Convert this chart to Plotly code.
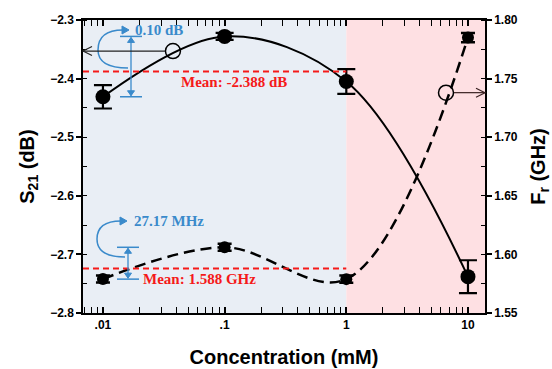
import numpy as np
import plotly.graph_objects as go

# Measured data
conc = [0.01, 0.1, 1, 10]                      # mM
s21 = [-2.431, -2.328, -2.405, -2.738]          # dB
s21_err = [0.020, 0.006, 0.021, 0.028]
fr = [1.57903, 1.60607, 1.5789, 1.785]          # GHz
fr_err = [0.003, 0.003, 0.003, 0.004]

# Points marking which curve belongs to which axis
s21_pointer = [0.0376, -2.353]
fr_pointer = [6.6, 1.738]

x_ticks = [0.01, 0.1, 1, 10]
x_ticktext = [".01", ".1", "1", "10"]

s21_mean = float(np.mean(s21[:3]))
fr_mean = float(np.mean(fr[:3]))

W, H = 552, 369
L, R, T, B = 83, 67, 20, 56
PW, PH = W - L - R, H - T - B
x_range = [-2.164, 1.14]
y_range = [-2.8, -2.3]
y2_range = [1.55, 1.80]

BLUE = "#3A8ACB"
RED = "#F51A1A"
serif = "Liberation Serif"
sans = "Liberation Sans"


# Coordinate helpers (paper units)
def xp(v):
    return (np.log10(v) - x_range[0]) / (x_range[1] - x_range[0])


def yp(v, rng):
    return (v - rng[0]) / (rng[1] - rng[0])


def pix(px, py):
    return (px - L) / PW, (H - B - py) / PH


fig = go.Figure()

# S21 trace (solid, left axis)
fig.add_trace(go.Scatter(
    x=conc, y=s21, mode="lines+markers",
    line=dict(color="black", width=2, shape="spline", smoothing=1.0),
    marker=dict(color="black", size=15),
    error_y=dict(type="data", array=s21_err, color="black", thickness=2.2, width=9),
    yaxis="y", showlegend=False,
))
# Resonance frequency trace (dashed, right axis)
fig.add_trace(go.Scatter(
    x=conc, y=fr, mode="lines+markers",
    line=dict(color="black", width=2.5, dash="11px,6px", shape="spline", smoothing=1.0),
    marker=dict(color="black", size=12),
    error_y=dict(type="data", array=fr_err, color="black", thickness=2.5, width=7),
    yaxis="y2", showlegend=False,
))
# Open circles on each curve
for pt, ax in [(s21_pointer, "y"), (fr_pointer, "y2")]:
    fig.add_trace(go.Scatter(
        x=[pt[0]], y=[pt[1]], mode="markers",
        marker=dict(symbol="circle", size=15, color="rgba(0,0,0,0)", line=dict(color="black", width=1.5)),
        yaxis=ax, showlegend=False,
    ))

shapes = []
x_one = xp(1)
# Shaded concentration regions
shapes.append(dict(type="rect", xref="paper", yref="paper", x0=0, x1=x_one, y0=0, y1=1,
                   fillcolor="#E9EEF5", line=dict(width=0), layer="below"))
shapes.append(dict(type="rect", xref="paper", yref="paper", x0=x_one, x1=1, y0=0, y1=1,
                   fillcolor="#FEE0E3", line=dict(width=0), layer="below"))
# Mean lines
for m, rng in [(s21_mean, y_range), (fr_mean, y2_range)]:
    shapes.append(dict(type="line", xref="paper", yref="paper", x0=0, x1=x_one,
                       y0=yp(m, rng), y1=yp(m, rng),
                       line=dict(color=RED, width=2, dash="6px,4px")))


def seg(x0, y0, x1, y1, color, width):
    shapes.append(dict(type="line", xref="paper", yref="paper", x0=x0, y0=y0, x1=x1, y1=y1,
                       line=dict(color=color, width=width)))


def tri(x, y, direction, color, size=5, half=3.5):
    # filled triangular arrowhead, tip at (x, y) in paper units; sizes in pixels
    dx, dy = size / PW, size / PH
    hx, hy = half / PW, half / PH
    if direction == "right":
        pts = [(x, y), (x - dx, y + hy), (x - dx, y - hy)]
    elif direction == "up":
        pts = [(x, y), (x - hx, y - dy), (x + hx, y - dy)]
    else:
        pts = [(x, y), (x - hx, y + dy), (x + hx, y + dy)]
    path = "M " + " L ".join(f"{a},{b}" for a, b in pts) + " Z"
    shapes.append(dict(type="path", xref="paper", yref="paper", path=path,
                       fillcolor=color, line=dict(color=color, width=1)))


def chevron(x, y, direction, color, size=9, half=4.5):
    # open arrowhead, tip at (x, y)
    s = 1 if direction == "right" else -1
    dx, hy = size / PW, half / PH
    path = f"M {x - s * dx},{y + hy} L {x},{y} L {x - s * dx},{y - hy}"
    shapes.append(dict(type="path", xref="paper", yref="paper", path=path,
                       line=dict(color=color, width=1.2)))


# Range brackets with double-headed arrows
def bracket(lo, hi, rng, xa, xm, xb):
    for v in (lo, hi):
        seg(pix(xa, 0)[0], yp(v, rng), pix(xb, 0)[0], yp(v, rng), BLUE, 1.5)
    x = pix(xm, 0)[0]
    y_lo, y_hi = yp(lo, rng) + 1 / PH, yp(hi, rng) - 1 / PH
    seg(x, y_lo, x, y_hi, BLUE, 1.3)
    tri(x, y_hi, "up", BLUE)
    tri(x, y_lo, "down", BLUE)


bracket(min(s21[:3]), max(s21[:3]), y_range, 120, 131, 142)
bracket(min(fr[:3]), max(fr[:3]), y2_range, 117, 128, 139)


# Curved arrows
def curve(pts):
    p = [pix(*q) for q in pts]
    path = (f"M {p[0][0]},{p[0][1]} Q {p[1][0]},{p[1][1]} {p[2][0]},{p[2][1]} "
            f"Q {p[3][0]},{p[3][1]} {p[4][0]},{p[4][1]}")
    shapes.append(dict(type="path", xref="paper", yref="paper", path=path,
                       line=dict(color=BLUE, width=1.5)))
    tip = pix(pts[4][0] + 6, pts[4][1])
    tri(tip[0], tip[1], "right", BLUE, size=7, half=4)


curve([(128, 68), (98, 68), (98, 50), (98, 30), (123, 30)])
curve([(125, 257), (97, 257), (97, 239), (97, 221), (121, 221)])

# Axis pointers from the open circles to their axes
r_circ = 8 / PW
y_s = yp(s21_pointer[1], y_range)
seg(0, y_s, xp(s21_pointer[0]) - r_circ, y_s, "#222222", 1.2)
chevron(0, y_s, "left", "#222222")
y_f = yp(fr_pointer[1], y2_range)
seg(xp(fr_pointer[0]) + r_circ, y_f, 1, y_f, "#3a2222", 1.2)
chevron(1, y_f, "right", "#3a2222")

annotations = []
# Text labels
for (px_, py_, anchor, text, color) in [
    (133, 30, "left", "0.10 dB", BLUE),
    (132, 221, "left", "27.17 MHz", BLUE),
    (234, 82, "center", f"Mean: {s21_mean:.3f} dB", RED),
    (199, 279, "center", f"Mean: {fr_mean:.3f} GHz", RED),
]:
    ax_, ay_ = pix(px_, py_)
    annotations.append(dict(xref="paper", yref="paper", x=ax_, y=ay_, xanchor=anchor, yanchor="middle",
                            text=text, showarrow=False,
                            font=dict(family=serif, size=15, color=color, weight="bold")))

tickfont = dict(family=sans, size=12, color="black", weight="bold")
titlefont = dict(family=sans, size=20, color="black", weight="bold")

fig.update_layout(
    width=W, height=H,
    margin=dict(l=L, r=R, t=T, b=B, autoexpand=False),
    paper_bgcolor="white", plot_bgcolor="white",
    shapes=shapes, annotations=annotations,
    xaxis=dict(
        type="log", range=x_range, tickvals=x_ticks, ticktext=x_ticktext,
        ticks="inside", ticklen=6, tickwidth=1.5, tickcolor="black",
        minor=dict(ticks="inside", ticklen=3, tickwidth=1, tickcolor="black", dtick="D1", showgrid=False),
        showline=True, linecolor="black", linewidth=1.5, mirror="allticks",
        showgrid=False, zeroline=False, tickfont=tickfont, automargin=False,
        title=dict(text="Concentration (mM)", font=titlefont, standoff=19),
    ),
    yaxis=dict(
        range=y_range, dtick=0.1, tickformat=".1f",
        ticks="outside", ticklen=5, tickwidth=1.5, tickcolor="black",
        minor=dict(ticks="inside", ticklen=4, tickwidth=1, tickcolor="black", dtick=0.05, showgrid=False),
        showline=True, linecolor="black", linewidth=1.5, automargin=False,
        showgrid=False, zeroline=False, tickfont=tickfont,
        title=dict(text="S<sub>21</sub> (dB)", font=titlefont, standoff=10),
    ),
    yaxis2=dict(
        range=y2_range, dtick=0.05, tickformat=".2f", overlaying="y", side="right",
        ticks="outside", ticklen=5, tickwidth=1.5, tickcolor="black",
        minor=dict(ticks="inside", ticklen=4, tickwidth=1, tickcolor="black", dtick=0.025, showgrid=False),
        showline=True, linecolor="black", linewidth=1.5, automargin=False,
        showgrid=False, zeroline=False, tickfont=tickfont,
        title=dict(text="F<sub>r</sub> (GHz)", font=titlefont, standoff=14),
    ),
)

fig.write_html("out.html")
